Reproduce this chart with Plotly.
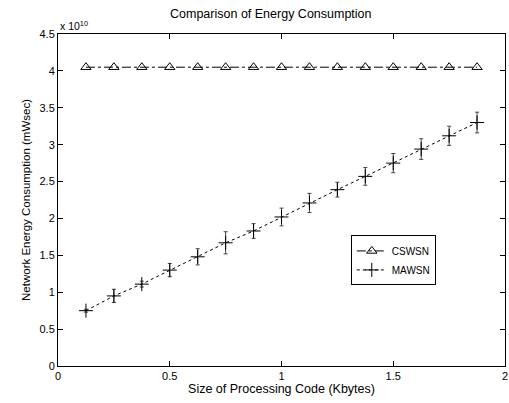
import plotly.graph_objects as go

code_size = [0.125, 0.25, 0.375, 0.5, 0.625, 0.75, 0.875, 1.0, 1.125, 1.25, 1.375, 1.5, 1.625, 1.75, 1.875]
cswsn = [4.05] * 15
mawsn = [0.75, 0.95, 1.11, 1.30, 1.48, 1.67, 1.83, 2.02, 2.21, 2.39, 2.57, 2.75, 2.94, 3.12, 3.30]
mawsn_err = [0.02, 0.09, 0.04, 0.09, 0.11, 0.15, 0.10, 0.12, 0.13, 0.10, 0.12, 0.13, 0.14, 0.13, 0.14]

FONT = "Liberation Sans, Arial, sans-serif"

fig = go.Figure()
fig.add_trace(go.Scatter(
    x=code_size, y=cswsn, name="CSWSN", mode="lines+markers",
    line=dict(color="black", width=1, dash="dashdot"),
    marker=dict(symbol="triangle-up-open", size=9, color="black", line=dict(width=1)),
))
fig.add_trace(go.Scatter(
    x=code_size, y=mawsn, name="MAWSN", mode="lines+markers",
    line=dict(color="black", width=1, dash="dot"),
    marker=dict(symbol="cross-thin-open", size=10, color="black", line=dict(width=1, color="black")),
    error_y=dict(type="data", array=mawsn_err, visible=True, color="#444", thickness=1, width=2),
))

axis_common = dict(
    showgrid=False, zeroline=False, showline=True, linecolor="black", linewidth=1,
    mirror="ticks", ticks="inside", ticklen=5, tickcolor="black",
    tickfont=dict(family=FONT, size=11, color="black"),
    ticklabeloverflow="allow",
)

fig.update_layout(
    width=509, height=403,
    margin=dict(l=58, r=1, t=34, b=37),
    paper_bgcolor="white", plot_bgcolor="white",
    title=dict(text="Comparison of Energy Consumption", xref="paper", x=0.476, xanchor="center",
               y=0.965, yanchor="middle",
               font=dict(family=FONT, size=12.5, color="black")),
    xaxis=dict(range=[0, 2], tickvals=[0, 0.5, 1, 1.5, 2], ticktext=["0", "0.5", "1", "1.5", "2"],
               title=dict(text="Size of Processing Code (Kbytes)", standoff=3,
                          font=dict(family=FONT, size=12.5, color="black")),
               **axis_common),
    yaxis=dict(range=[0, 4.5], tickvals=[0, 0.5, 1, 1.5, 2, 2.5, 3, 3.5, 4, 4.5],
               ticktext=["0", "0.5", "1", "1.5", "2", "2.5", "3", "3.5", "4", "4.5"],
               title=dict(text="Network Energy Consumption (mWsec)", standoff=6,
                          font=dict(family=FONT, size=11.5, color="black")),
               **axis_common),
    legend=dict(x=0.655, y=0.318, xanchor="left", yanchor="middle",
                bgcolor="white", bordercolor="black", borderwidth=1,
                font=dict(family=FONT, size=10, color="black"),
                itemwidth=30, tracegroupgap=0),
    showlegend=True,
)

fig.add_annotation(text="x 10<sup>10</sup>", xref="paper", yref="paper", x=0, y=1.0,
                   xanchor="left", yanchor="bottom", showarrow=False,
                   font=dict(family=FONT, size=10.5, color="black"))

fig.write_html("out.html")
